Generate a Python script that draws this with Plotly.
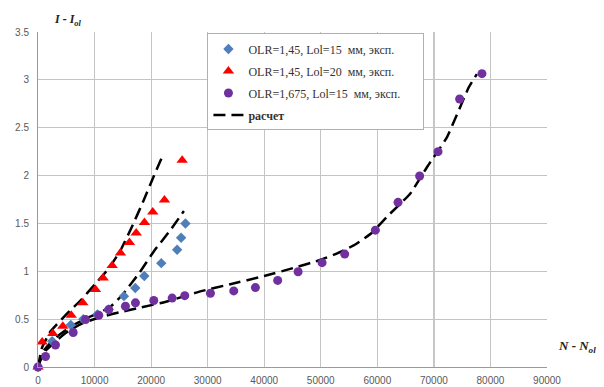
import plotly.graph_objects as go

# Experimental series: OLR=1,45, Lol=15 mm
n_d15 = [0, 2500, 5800, 8000, 10500, 12500, 15200, 17200, 18800, 21800, 24600, 25300, 26070]
i_d15 = [0, 0.27, 0.44, 0.50, 0.55, 0.60, 0.74, 0.825, 0.95, 1.085, 1.225, 1.35, 1.50]

# Experimental series: OLR=1,45, Lol=20 mm
n_t20 = [0, 740, 2620, 4390, 5870, 7920, 10160, 11520, 13110, 14580, 16170, 17360, 18820, 20290, 22360, 25490]
i_t20 = [0, 0.26, 0.35, 0.425, 0.54, 0.67, 0.81, 0.93, 1.06, 1.19, 1.30, 1.40, 1.51, 1.62, 1.745, 2.16]

# Experimental series: OLR=1,675, Lol=15 mm
n_c15 = [0, 1330, 3090, 6220, 8400, 10750, 12510, 15460, 17230, 20470, 23720, 25950, 30490, 34610,
         38440, 42380, 45990, 50230, 54230, 59650, 63660, 67480, 70730, 74550, 78500]
i_c15 = [0, 0.11, 0.23, 0.36, 0.495, 0.54, 0.60, 0.635, 0.67, 0.695, 0.72, 0.745, 0.77, 0.795,
         0.83, 0.905, 0.995, 1.09, 1.18, 1.43, 1.72, 1.995, 2.25, 2.80, 3.065]

# Calculated curves
calc_n_t20 = [0, 700, 2200, 5000, 7600, 10000, 12500, 14600, 16650, 18600, 20300, 21900]
calc_i_t20 = [0, 0.20, 0.37, 0.55, 0.70, 0.86, 1.03, 1.22, 1.47, 1.73, 1.97, 2.19]

calc_n_d15 = [0, 1000, 3000, 6000, 9000, 11000, 13000, 15000, 18000, 20500, 23400, 25800]
calc_i_d15 = [0, 0.17, 0.30, 0.43, 0.52, 0.57, 0.64, 0.76, 0.99, 1.21, 1.43, 1.63]

calc_n_c15 = [0, 1000, 2800, 5000, 8000, 11600, 15000, 18100, 22800, 28700, 34000, 40000, 45500,
              50000, 53000, 56100, 59000, 61700, 65800, 68800, 72300, 76150, 77600]
calc_i_c15 = [0, 0.15, 0.25, 0.36, 0.46, 0.53, 0.58, 0.62, 0.685, 0.79, 0.865, 0.95, 1.04,
              1.12, 1.19, 1.28, 1.40, 1.57, 1.81, 2.09, 2.40, 2.92, 3.06]

NB = "\u00a0"
legend_names = [
    "OLR=1,45, Lol=15" + NB + " мм, эксп." + NB * 6,
    "OLR=1,45, Lol=20" + NB + " мм, эксп." + NB * 6,
    "OLR=1,675, Lol=15" + NB + " мм, эксп." + NB * 6,
    "<b>расчет</b>",
]

fig = go.Figure()

dash_line = dict(color="black", width=2.5, dash="12px,6px", shape="spline", smoothing=0.4)
for k, (xs, ys) in enumerate([(calc_n_t20, calc_i_t20), (calc_n_d15, calc_i_d15), (calc_n_c15, calc_i_c15)]):
    fig.add_trace(go.Scatter(x=xs, y=ys, mode="lines", line=dash_line,
                             name=legend_names[3], legendgroup="calc", legendrank=4,
                             showlegend=(k == 0), cliponaxis=False))

fig.add_trace(go.Scatter(x=n_d15, y=i_d15, mode="markers", name=legend_names[0], legendgroup="d15",
                         legendrank=1, marker=dict(symbol="diamond", size=8, color="#4F7FBB"),
                         cliponaxis=False))
fig.add_trace(go.Scatter(x=n_t20, y=i_t20, mode="markers", name=legend_names[1], legendgroup="t20",
                         legendrank=2, marker=dict(symbol="triangle-up", size=10, color="#FF0000"),
                         cliponaxis=False))
fig.add_trace(go.Scatter(x=n_c15, y=i_c15, mode="markers", name=legend_names[2], legendgroup="c15",
                         legendrank=3, marker=dict(symbol="circle", size=9, color="#7030A0"),
                         cliponaxis=False))

grid = "#c4c4c4"
tick_font = dict(family="Liberation Sans", size=10, color="#595959")

fig.update_xaxes(range=[0, 90000], dtick=10000, tickformat="d", showgrid=True, gridcolor=grid,
                 gridwidth=1, zeroline=False, showline=True, linecolor="#9a9a9a", linewidth=1,
                 ticks="", tickfont=tick_font, ticklabelstandoff=4, automargin=False)
fig.update_yaxes(range=[0, 3.5], dtick=0.5, showgrid=True, gridcolor=grid, gridwidth=1,
                 zeroline=False, showline=True, linecolor="#9a9a9a", linewidth=1,
                 ticks="", tickfont=tick_font, ticklabelstandoff=6, automargin=False)

# darker vertical line at 70000
fig.add_shape(type="line", x0=70000, x1=70000, y0=0, y1=3.5, xref="x", yref="y",
              line=dict(color="#707070", width=1), layer="below")

fig.add_annotation(text="<b><i>I - I<sub>ol</sub></i></b>", xref="paper", yref="paper",
                   x=(52 - 37.5) / 509.2, y=(367.5 - 19) / 336, xanchor="left", yanchor="middle",
                   showarrow=False, font=dict(family="Liberation Serif", size=12, color="#222"))
fig.add_annotation(text="<b><i>N - N<sub>ol</sub></i></b>", xref="paper", yref="paper",
                   x=(556 - 37.5) / 509.2, y=(367.5 - 347) / 336, xanchor="left", yanchor="middle",
                   showarrow=False, font=dict(family="Liberation Serif", size=13, color="#222"))

fig.update_layout(
    width=604, height=387,
    margin=dict(l=37.5, r=57.3, t=31.5, b=19.5, autoexpand=False),
    paper_bgcolor="white", plot_bgcolor="white",
    showlegend=True,
    legend=dict(x=(207 - 37.5) / 509.2, y=(367.5 - 33) / 336, xanchor="left", yanchor="top",
                bgcolor="white", bordercolor="#b0b0b0", borderwidth=1,
                font=dict(family="Liberation Serif, Times New Roman, serif", size=12, color="#333"),
                traceorder="grouped", tracegroupgap=3, itemwidth=30),
)

fig.write_html("out.html")
